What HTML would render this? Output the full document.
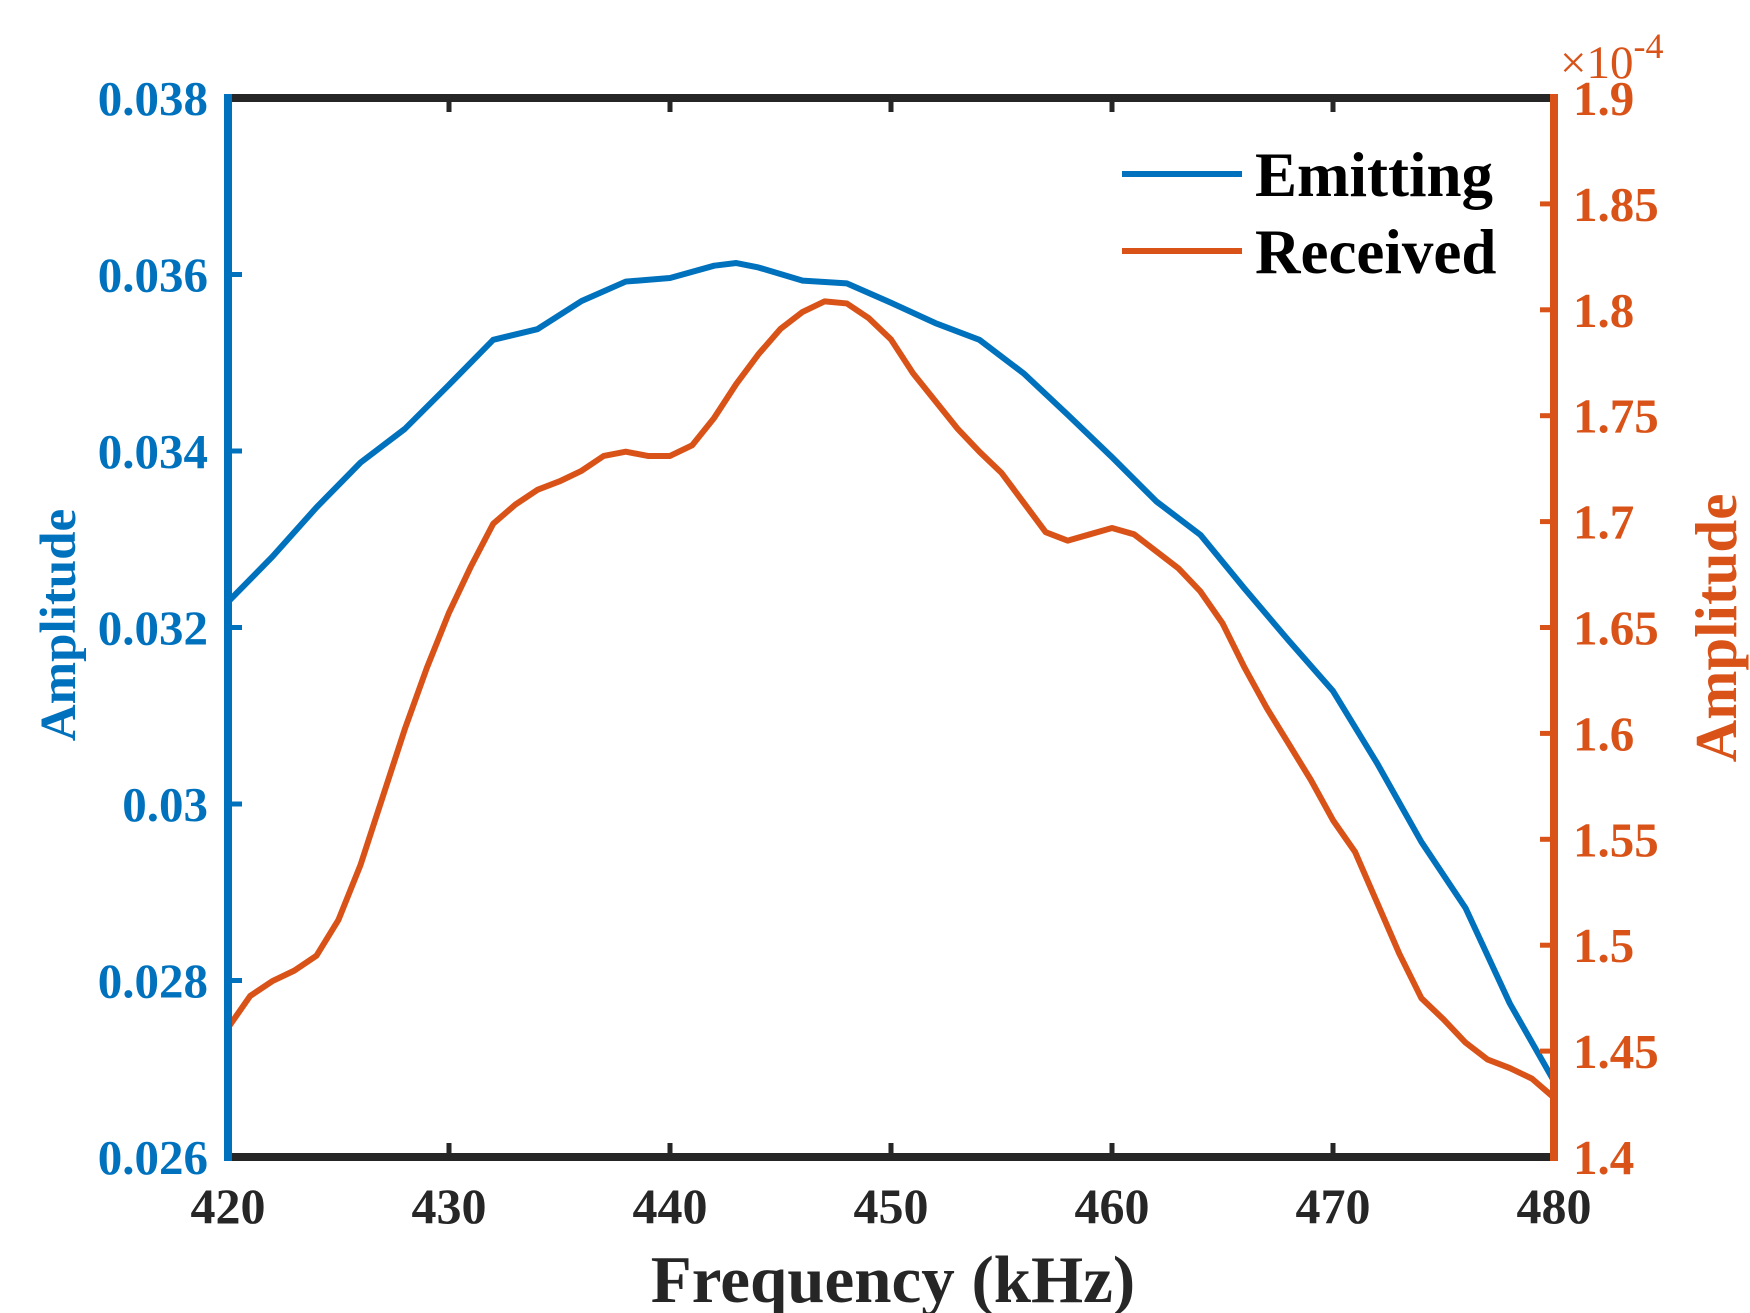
<!DOCTYPE html>
<html><head><meta charset="utf-8"><style>
html,body{margin:0;padding:0;background:#fff;}
svg{display:block;font-family:"Liberation Serif",serif;font-weight:bold;}
</style></head><body>
<svg id="chart" width="1750" height="1313" viewBox="0 0 1750 1313" xmlns="http://www.w3.org/2000/svg"></svg>
<script>
const freqE=[420,422,424,426,428,430,432,434,436,438,440,442,443,444,446,448,450,452,454,456,458,460,462,464,466,468,470,472,474,476,478,480];
const emitting=[0.03229,0.0328,0.03336,0.03387,0.03425,0.03475,0.03526,0.03538,0.0357,0.03592,0.03596,0.0361,0.03613,0.03608,0.03593,0.0359,0.03568,0.03545,0.03526,0.03488,0.03441,0.03393,0.03343,0.03305,0.03244,0.03185,0.03128,0.03046,0.02957,0.02882,0.02774,0.02686];
const freqR=[420,421,422,423,424,425,426,427,428,429,430,431,432,433,434,435,436,437,438,439,440,441,442,443,444,445,446,447,448,449,450,451,452,453,454,455,456,457,458,459,460,461,462,463,464,465,466,467,468,469,470,471,472,473,474,475,476,477,478,479,480];
const received=[1.461,1.476,1.483,1.488,1.495,1.512,1.538,1.570,1.602,1.631,1.657,1.679,1.699,1.708,1.715,1.719,1.724,1.731,1.733,1.731,1.731,1.736,1.749,1.765,1.779,1.791,1.799,1.804,1.803,1.796,1.786,1.770,1.757,1.744,1.733,1.723,1.709,1.695,1.691,1.694,1.697,1.694,1.686,1.678,1.667,1.652,1.631,1.612,1.595,1.578,1.559,1.544,1.520,1.496,1.475,1.465,1.454,1.446,1.442,1.437,1.428];
const xTicks=[420,430,440,450,460,470,480];
const yLeftTicks=[0.026,0.028,0.03,0.032,0.034,0.036,0.038];
const yLeftLabels=["0.026","0.028","0.03","0.032","0.034","0.036","0.038"];
const yRightTicks=[1.4,1.45,1.5,1.55,1.6,1.65,1.7,1.75,1.8,1.85,1.9];
const yRightLabels=["1.4","1.45","1.5","1.55","1.6","1.65","1.7","1.75","1.8","1.85","1.9"];

const PL=228,PR=1554,PT=98,PB=1157;
const BLUE="#0072BD",ORANGE="#D95319",BLK="#262626";
const xs=f=>PL+(f-420)/60*(PR-PL);
const yl=v=>PB-(v-0.026)/0.012*(PB-PT);
const yr=v=>PB-(v-1.4)/0.5*(PB-PT);
const chartSvg=document.getElementById('chart');
const NS="http://www.w3.org/2000/svg";
function mk(tag,attrs){const e=document.createElementNS(NS,tag);for(const k in attrs)e.setAttribute(k,attrs[k]);chartSvg.appendChild(e);return e;}

const pE=mk('polyline',{points:freqE.map((f,i)=>xs(f)+','+yl(emitting[i])).join(' '),fill:'none',stroke:BLUE,'stroke-width':6,'stroke-linejoin':'round'});


const pR=mk('polyline',{points:freqR.map((f,i)=>xs(f)+','+yr(received[i])).join(' '),fill:'none',stroke:ORANGE,'stroke-width':6,'stroke-linejoin':'round'});



const sw=8;
const axTop=mk('line',{x1:PL,y1:PT,x2:PR,y2:PT,stroke:BLK,'stroke-width':sw});


const axBot=mk('line',{x1:PL,y1:PB,x2:PR,y2:PB,stroke:BLK,'stroke-width':sw});


const axL=mk('line',{x1:PL,y1:PT-4,x2:PL,y2:PB+4,stroke:BLUE,'stroke-width':sw});


const axR=mk('line',{x1:PR,y1:PT-4,x2:PR,y2:PB+4,stroke:ORANGE,'stroke-width':sw});



const tl=14;
xTicks.forEach(t=>{
  const x=xs(t);
  if(t!==420&&t!==480){
    const a=mk('line',{x1:x,y1:PB,x2:x,y2:PB-tl,stroke:BLK,'stroke-width':5});
    
    
    const b=mk('line',{x1:x,y1:PT,x2:x,y2:PT+tl,stroke:BLK,'stroke-width':5});
    
    
  }
  const tx=mk('text',{x:x,y:1223,'text-anchor':'middle','font-size':50,fill:BLK});
  tx.textContent=t;
  
  
});
yLeftTicks.forEach((t,i)=>{
  const y=yl(t);
  if(i>0&&i<yLeftTicks.length-1){
    const a=mk('line',{x1:PL,y1:y,x2:PL+tl,y2:y,stroke:BLUE,'stroke-width':5});
    
    
  }
  const tx=mk('text',{x:208,y:y+17,'text-anchor':'end','font-size':49,fill:BLUE});
  tx.textContent=yLeftLabels[i];
  
  
});
yRightTicks.forEach((t,i)=>{
  const y=yr(t);
  if(i>0&&i<yRightTicks.length-1){
    const a=mk('line',{x1:PR,y1:y,x2:PR-tl,y2:y,stroke:ORANGE,'stroke-width':5});
    
    
  }
  const tx=mk('text',{x:1573,y:y+17,'text-anchor':'start','font-size':49,fill:ORANGE});
  tx.textContent=yRightLabels[i];
  
  
});
</script>
<svg style="position:absolute;left:0;top:0" width="1750" height="1313">
  <text x="893" y="1302" text-anchor="middle" font-family="Liberation Serif,serif" font-weight="bold" font-size="67" fill="#262626">Frequency (kHz)</text>
  <text transform="translate(75,625) rotate(-90)" text-anchor="middle" font-family="Liberation Serif,serif" font-weight="bold" font-size="51" fill="#0072BD">Amplitude</text>
  <text transform="translate(1736,628) rotate(-90)" text-anchor="middle" font-family="Liberation Serif,serif" font-weight="bold" font-size="59" fill="#D95319">Amplitude</text>
  <text x="1560" y="78" font-family="Liberation Serif,serif" font-weight="normal" font-size="47" fill="#D95319">×10<tspan dy="-20" font-size="36">-4</tspan></text>
  <g>
    <line x1="1122" y1="174" x2="1242" y2="174" stroke="#0072BD" stroke-width="6"/>
    <text x="1255" y="196" font-family="Liberation Serif,serif" font-weight="bold" font-size="63" fill="#000">Emitting</text>
    <line x1="1122" y1="251" x2="1242" y2="251" stroke="#D95319" stroke-width="6"/>
    <text x="1255" y="273" font-family="Liberation Serif,serif" font-weight="bold" font-size="63" fill="#000">Received</text>
  </g>
</svg>
</body></html>
